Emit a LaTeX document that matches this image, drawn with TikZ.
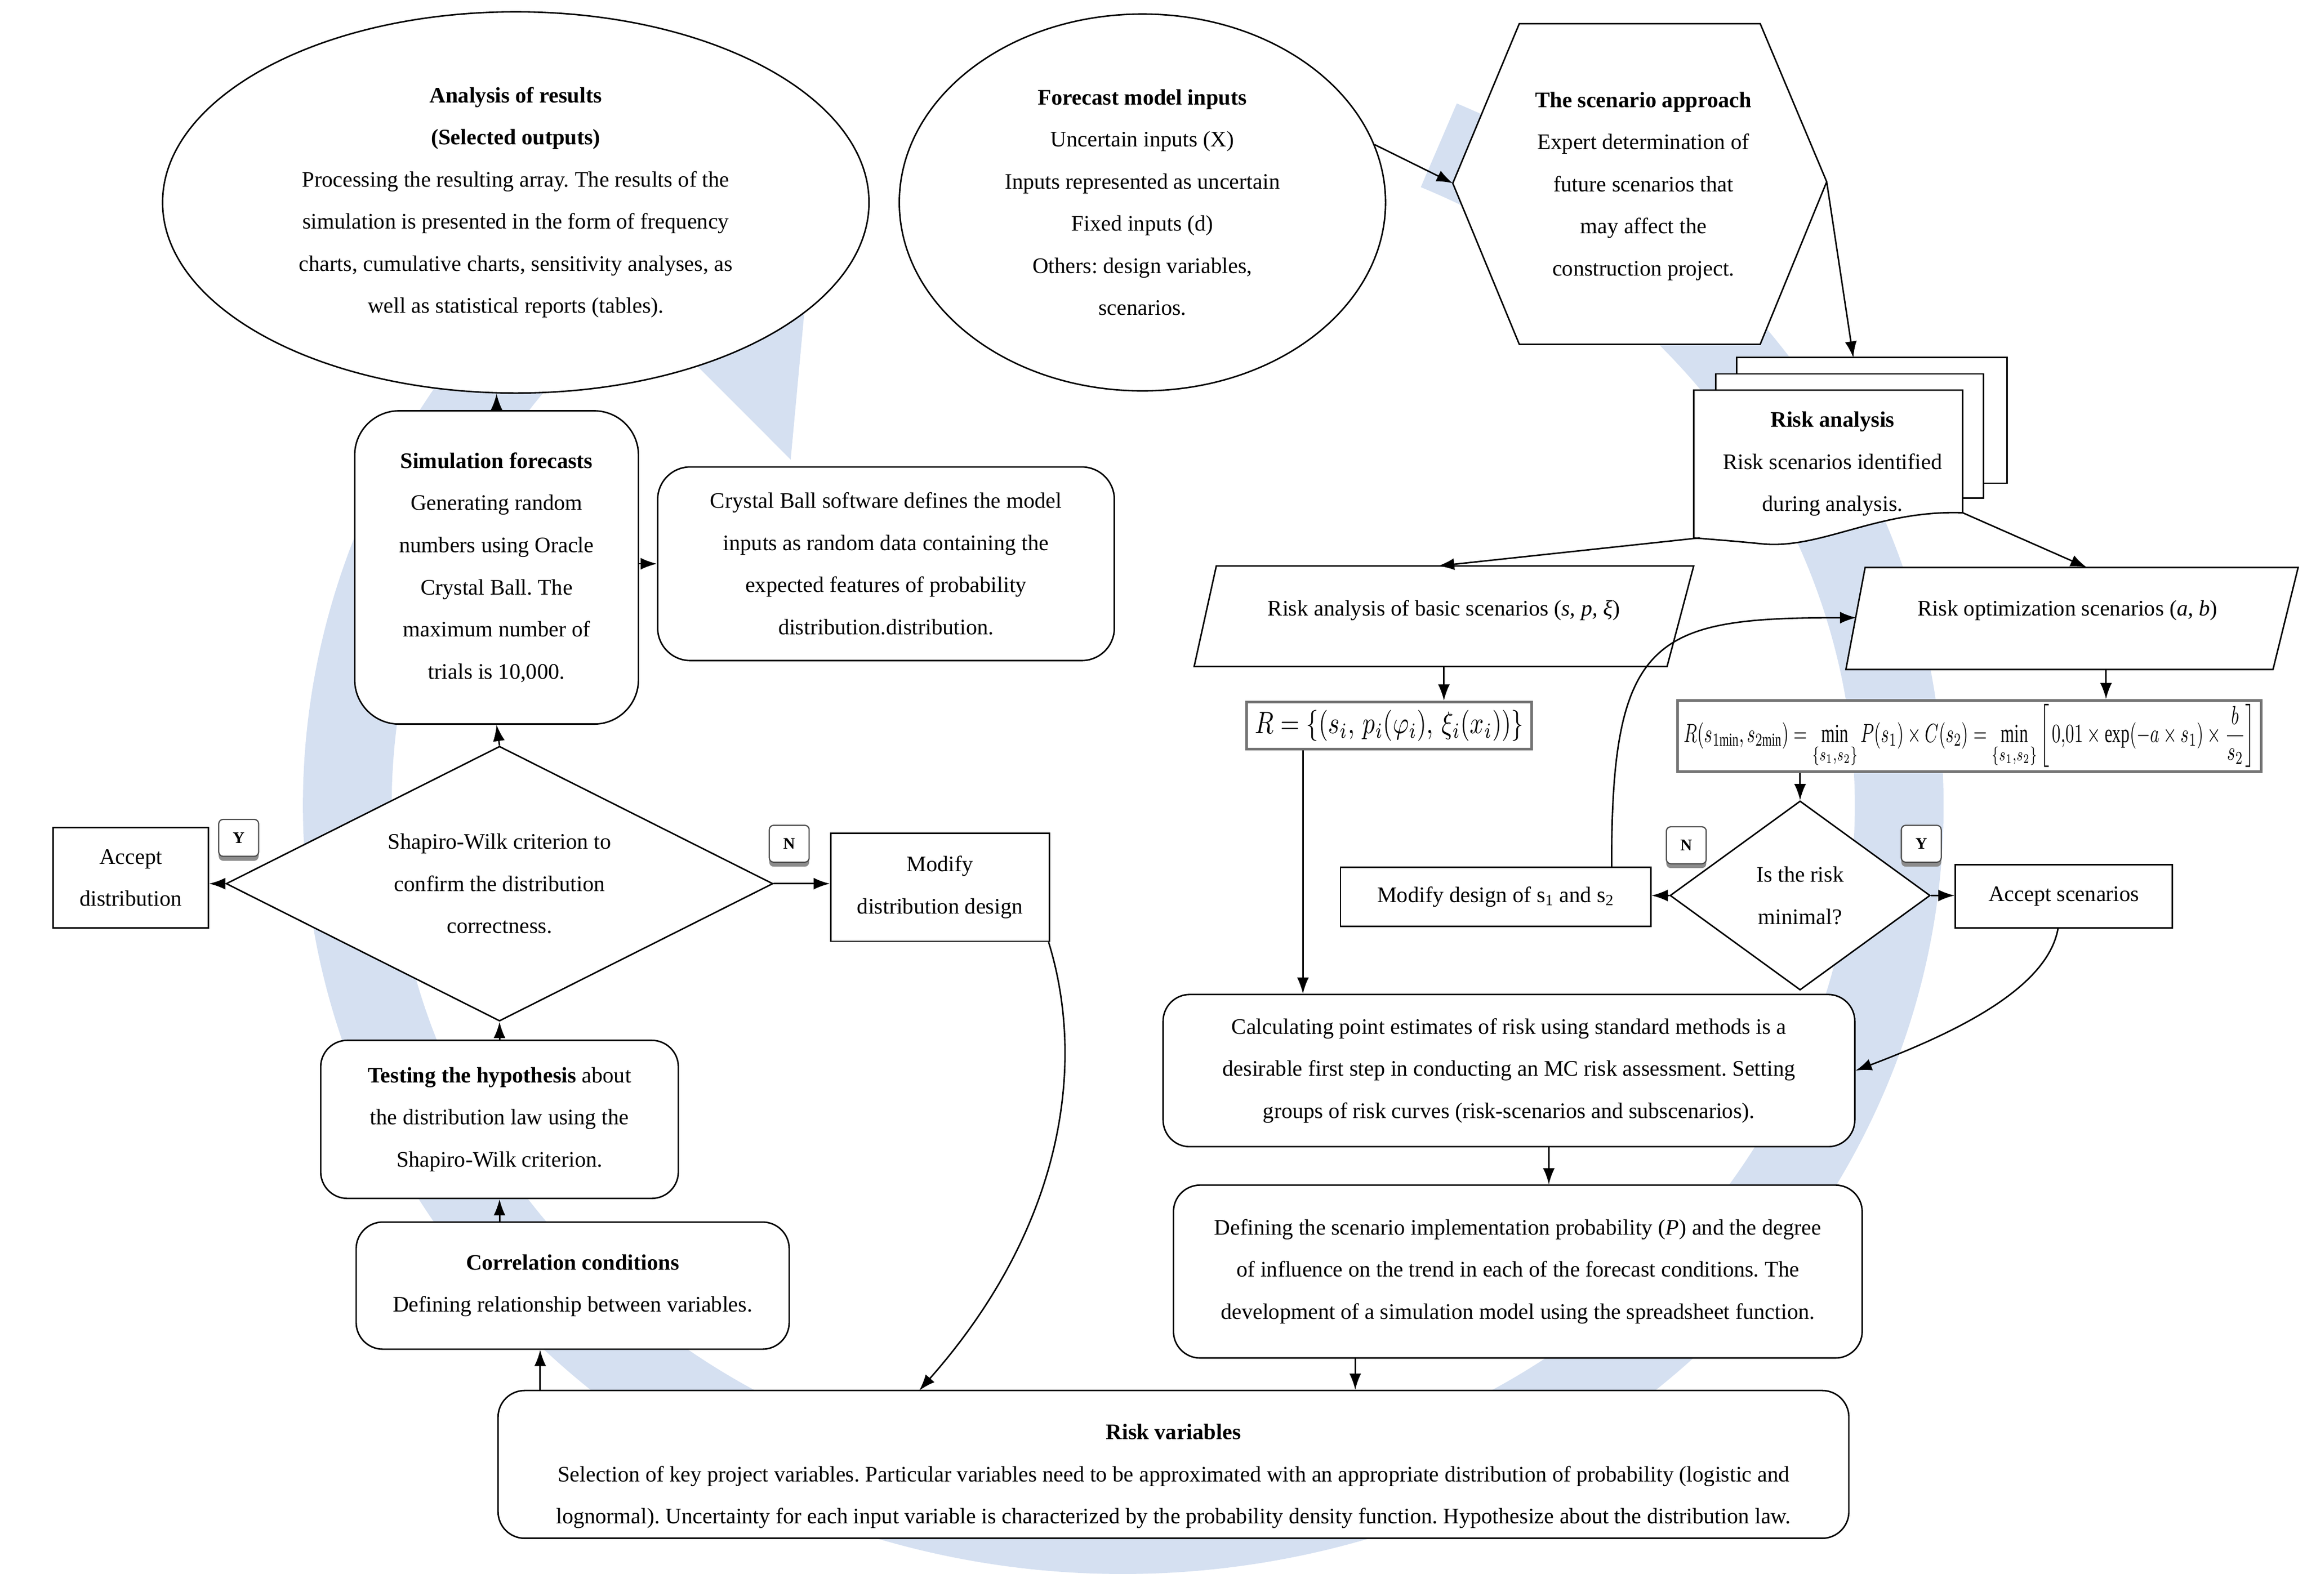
\documentclass[tikz,border=0pt]{standalone}
\usepackage{graphicx}
\usepackage{fontspec}
\setmainfont{Liberation Serif}
\usetikzlibrary{shapes.geometric,arrows.meta,shadows}
\definecolor{ringblue}{RGB}{213,224,241}
\frenchspacing
\begin{document}
\begin{tikzpicture}[x=1pt,y=-1pt,
  base/.style={font=\fontsize{15}{28.5}\selectfont, align=center, inner sep=0pt},
  box/.style={base, draw, line width=1pt, fill=white, rectangle},
  rbox/.style={box, rounded corners=18pt},
  ell/.style={base, draw, line width=1pt, fill=white, ellipse},
  dia/.style={base, draw, line width=1pt, fill=white, diamond},
  shp/.style={draw, line width=1pt, fill=white},
  arr/.style={line width=1pt, -{Latex[length=11pt,width=8pt]}},
  btn/.style={draw=black!70, line width=0.8pt, fill=white, rounded corners=3pt,
    minimum width=27pt, minimum height=25pt, inner sep=0pt,
    font=\fontsize{11}{11}\selectfont\bfseries,
    drop shadow={shadow xshift=0pt, shadow yshift=-3pt, fill=black!45, opacity=1}},
  fbox/.style={draw=black!55, line width=1.8pt, fill=white, inner sep=1pt}
]
\useasboundingbox (0,0) rectangle (1561,1080);

% background circular arrow
\fill[ringblue] (985.7,70) arc[start angle=294, end angle=588, x radius=555, y radius=520]
  -- (284,51) -- (555,95) -- (535,311) -- (428.8,204.7)
  arc[start angle=588, end angle=294, x radius=495, y radius=458] -- cycle;

% ---------- left part ----------
\node[ell, minimum width=478, minimum height=258] (anal) at (349,137)
 {\textbf{Analysis of results}\\\textbf{(Selected outputs)}\\Processing the resulting array. The results of the\\simulation is presented in the form of frequency\\charts, cumulative charts, sensitivity analyses, as\\well as statistical reports (tables).};

\node[ell, minimum width=329, minimum height=255] (fore) at (773,137)
 {\textbf{Forecast model inputs}\\Uncertain inputs (X)\\Inputs represented as uncertain\\Fixed inputs (d)\\Others: design variables,\\scenarios.};

\node[box, rounded corners=30pt, minimum width=192, minimum height=212] (sim) at (336,384)
 {\textbf{Simulation forecasts}\\Generating random\\numbers using Oracle\\Crystal Ball. The\\maximum number of\\trials is 10,000.};

\node[rbox, rounded corners=22pt, minimum width=309, minimum height=131] (crys) at (599.5,381.5)
 {Crystal Ball software defines the model\\inputs as random data containing the\\expected features of probability\\distribution.distribution.};

\node[dia, aspect=2, minimum width=370, minimum height=186] (swd) at (338,598)
 {Shapiro-Wilk criterion to\\confirm the distribution\\correctness.};

\node[box, minimum width=105, minimum height=68] (accD) at (88.5,594)
 {Accept\\distribution};
\node[box, minimum width=148, minimum height=73] (modD) at (636,600.5)
 {Modify\\distribution design};

\node[btn] (yL) at (161.5,567) {Y};
\node[btn] (nL) at (534,571) {N};

\node[rbox, minimum width=242, minimum height=107] (test) at (338,757.5)
 {\textbf{Testing the hypothesis} about\\the distribution law using the\\Shapiro-Wilk criterion.};

\node[rbox, minimum width=293, minimum height=86] (corr) at (387.5,870)
 {\textbf{Correlation conditions}\\Defining relationship between variables.};

\node[rbox, minimum width=914, minimum height=100] (rv) at (794,991) {};
\node[base] (rvt) at (794,999)
 {\textbf{Risk variables}\\Selection of key project variables. Particular variables need to be approximated with an appropriate distribution of probability (logistic and\\lognormal). Uncertainty for each input variable is characterized by the probability density function. Hypothesize about the distribution law.};

% ---------- right part ----------
\draw[shp] (1028,16) -- (1191,16) -- (1236,123) -- (1191,233) -- (1028,233) -- (983,124) -- cycle;
\coordinate (hexL) at (983,124);
\coordinate (hexR) at (1236,123);
\node[base] (scen) at (1112,126)
 {\textbf{The scenario approach}\\Expert determination of\\future scenarios that\\may affect the\\construction project.};

\draw[shp] (1175,242) rectangle (1358,327);
\draw[shp] (1161,253) rectangle (1342,337);
\draw[shp] (1146,364) -- (1146,264) -- (1328,264) -- (1328,347)
  .. controls (1270,345) and (1232,372) .. (1192,368)
  .. controls (1172,366) and (1158,365) .. (1146,364) -- cycle;
\node[base] (risk) at (1240,314)
 {\textbf{Risk analysis}\\Risk scenarios identified\\during analysis.};
\coordinate (raTop) at (1254,242);
\coordinate (raBL) at (1150,364);
\coordinate (raBR) at (1328,347);

\draw[shp] (823,383) -- (1146,383) -- (1128,451) -- (808,451) -- cycle;
\node[base] (basic) at (977,413) {Risk analysis of basic scenarios (\textit{s, p, ξ})};
\coordinate (basicTop) at (973,383);
\coordinate (basicBot) at (977,451);

\draw[shp] (1262,384) -- (1555,384) -- (1538,453) -- (1249,453) -- cycle;
\node[base] (opt) at (1399,413) {Risk optimization scenarios (\textit{a, b})};
\coordinate (optTop) at (1412,384);
\coordinate (optLeft) at (1256,418);
\coordinate (optBot) at (1425,453);

\node[fbox, minimum width=193, minimum height=32] (fR) at (940,491)
 {\resizebox*{182pt}{21pt}{$R=\{(s_i,\,p_i(\varphi_i),\,\xi_i(x_i))\}$}};

\node[fbox, minimum width=395, minimum height=48] (fH) at (1332.5,498)
 {\resizebox*{386pt}{43pt}{$\displaystyle R(s_{1\mathrm{min}},s_{2\mathrm{min}})=\min\limits_{\{s_1,s_2\}}P(s_1)\times C(s_2)=\min\limits_{\{s_1,s_2\}}\left[\,0{,}01\times\exp(-a\times s_1)\times\frac{b}{s_2}\right]$}};

\node[dia, aspect=1.375, minimum width=176, minimum height=128] (rmin) at (1218,606)
 {Is the risk\\minimal?};
\node[box, minimum width=210, minimum height=40] (modS) at (1012,607)
 {Modify design of s\textsubscript{1} and s\textsubscript{2}};
\node[box, minimum width=147, minimum height=43] (accS) at (1396.5,606.5)
 {Accept scenarios};
\node[btn] (nR) at (1141,572) {N};
\node[btn] (yR) at (1300,571) {Y};

\node[rbox, minimum width=468, minimum height=103] (calc) at (1021,724.5)
 {Calculating point estimates of risk using standard methods is a\\desirable first step in conducting an MC risk assessment. Setting\\groups of risk curves (risk-scenarios and subscenarios).};

\node[rbox, minimum width=466, minimum height=117] (defp) at (1027,860.5)
 {Defining the scenario implementation probability (\textit{P}) and the degree\\of influence on the trend in each of the forecast conditions. The\\development of a simulation model using the spreadsheet function.};

% ---------- connectors ----------
\coordinate (simTop) at (sim.north);
\draw[arr] (simTop) -- (simTop |- anal.south);
\coordinate (simR) at (sim.east |- crys.west);
\draw[arr] (simR) -- (crys.west);
\draw[arr] (swd.north) -- (sim.south);
\draw[arr] (test.north) -- (swd.south);
\coordinate (corrT) at (corr.north -| test.south);
\draw[arr] (corrT) -- (test.south);
\coordinate (rvL) at ([xshift=29pt]rv.north west);
\draw[arr] (rvL) -- (rvL |- corr.south);
\draw[arr] (swd.west) -- (swd.west -| accD.east);
\draw[arr] (swd.east) -- (swd.east -| modD.west);
\coordinate (rvIn) at (622,941);
\draw[arr] ([xshift=-1pt]modD.south east) .. controls (735,720) and (720,830) .. (rvIn);

\draw[arr] (fore.14) -- (hexL);
\draw[arr] (hexR) -- (raTop);
\draw[arr] (raBL) -- (basicTop);
\draw[arr] (raBR) -- (optTop);
\draw[arr] (basicBot) -- (basicBot |- fR.north);
\draw[arr] (optBot) -- (optBot |- fH.north);
\coordinate (fRout) at ([xshift=39pt]fR.south west);
\draw[arr] (fRout) -- (fRout |- calc.north);
\coordinate (fHout) at (rmin.north |- fH.south);
\draw[arr] (fHout) -- (rmin.north);
\draw[arr] (rmin.west) -- (rmin.west -| modS.east);
\draw[arr] (rmin.east) -- (rmin.east -| accS.west);
\coordinate (modSup) at ([xshift=-27pt]modS.north east);
\draw[arr] (modSup) .. controls (1090,430) and (1120,418) .. (optLeft);
\coordinate (accSdn) at ([xshift=-4pt]accS.south);
\draw[arr] (accSdn) .. controls (1385,670) and (1320,700) .. (calc.east);
\coordinate (calcOut) at ([xshift=27pt]calc.south);
\draw[arr] (calcOut) -- (calcOut |- defp.north);
\coordinate (defOut) at ([xshift=-110pt]defp.south);
\draw[arr] (defOut) -- (defOut |- rv.north);
\end{tikzpicture}
\end{document}
